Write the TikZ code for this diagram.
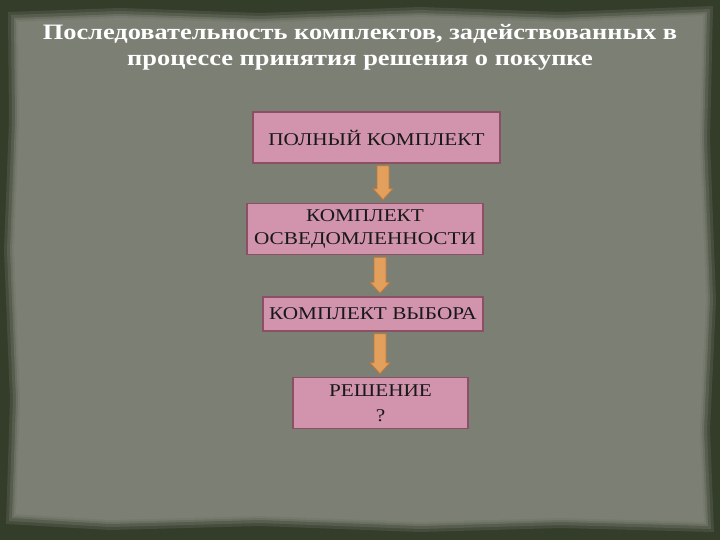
\documentclass[tikz,border=0pt]{standalone}
\usepackage{fontspec}
\setmainfont{Liberation Serif}
\newfontfamily\titlefont[FakeStretch=1.2]{Liberation Serif Bold}
\newfontfamily\boxfont[FakeStretch=1.18]{Liberation Serif}
\usetikzlibrary{calc}
\definecolor{frame}{RGB}{52,60,42}
\definecolor{parch}{RGB}{124,128,116}
\definecolor{boxfill}{RGB}{210,148,172}
\definecolor{boxline}{RGB}{140,80,100}
\definecolor{arrfill}{RGB}{226,160,92}
\definecolor{arrline}{RGB}{190,120,60}
\tikzset{
  stagebox/.style={draw=boxline, line width=1.6pt, fill=boxfill, align=center,
    font=\boxfont\fontsize{18}{23}\selectfont, text=black!90, inner sep=0pt},
  fatarrow/.style={draw=arrline, fill=arrfill, line width=0.8pt, line join=miter},
  titletext/.style={font=\titlefont\fontsize{22}{26}\selectfont, align=center}
}
\newcommand{\myfatarrow}[3]{%
  \path[fatarrow] let \p1=(#2.south), \p2=(#3.north) in
    (#1pt-6pt,\y1-2pt) -- (#1pt+6pt,\y1-2pt) -- (#1pt+6pt,\y2+14pt) -- (#1pt+10pt,\y2+14pt)
    -- (#1pt,\y2+3pt) -- (#1pt-10pt,\y2+14pt) -- (#1pt-6pt,\y2+14pt) -- cycle;}
\begin{document}
\begin{tikzpicture}[x=1pt,y=-1pt]
\useasboundingbox (0,0) rectangle (720,540);
\fill[frame] (0,0) rectangle (720,540);
% parchment with soft edge
\foreach \o/\op in {10/0.25,7/0.35,4/0.5,2/0.7,0/1}{
  \fill[parch, opacity=\op] (18-\o,22-\o) -- (120,18-\o) -- (260,23-\o) -- (420,17-\o) -- (560,22-\o) -- (703+\o,16-\o)
     -- (700+\o,140) -- (706+\o,300) -- (700+\o,430) -- (704+\o,522+\o)
     -- (560,518+\o) -- (420,522+\o) -- (260,516+\o) -- (110,520+\o) -- (16-\o,514+\o)
     -- (20-\o,400) -- (14-\o,250) -- (19-\o,120) -- cycle;
}
% title
\node[titletext, text=white] (title) at (360,47)
  {Последовательность комплектов, задействованных в\\процессе принятия решения о покупке};
% boxes
\node[stagebox, minimum width=247pt, minimum height=51pt] (b1) at (376.5,137.5) {ПОЛНЫЙ КОМПЛЕКТ};
\node[stagebox, minimum width=236pt, minimum height=51pt] (b2) at (365,229) {КОМПЛЕКТ\\ОСВЕДОМЛЕННОСТИ};
\node[stagebox, minimum width=220pt, minimum height=34pt] (b3) at (373,314) {КОМПЛЕКТ ВЫБОРА};
\node[stagebox, minimum width=175pt, minimum height=51pt, font=\boxfont\fontsize{18}{25}\selectfont] (b4) at (380.5,403) {РЕШЕНИЕ\\?};
% arrows
\myfatarrow{383}{b1}{b2}
\myfatarrow{380}{b2}{b3}
\myfatarrow{380}{b3}{b4}
\end{tikzpicture}
\end{document}
